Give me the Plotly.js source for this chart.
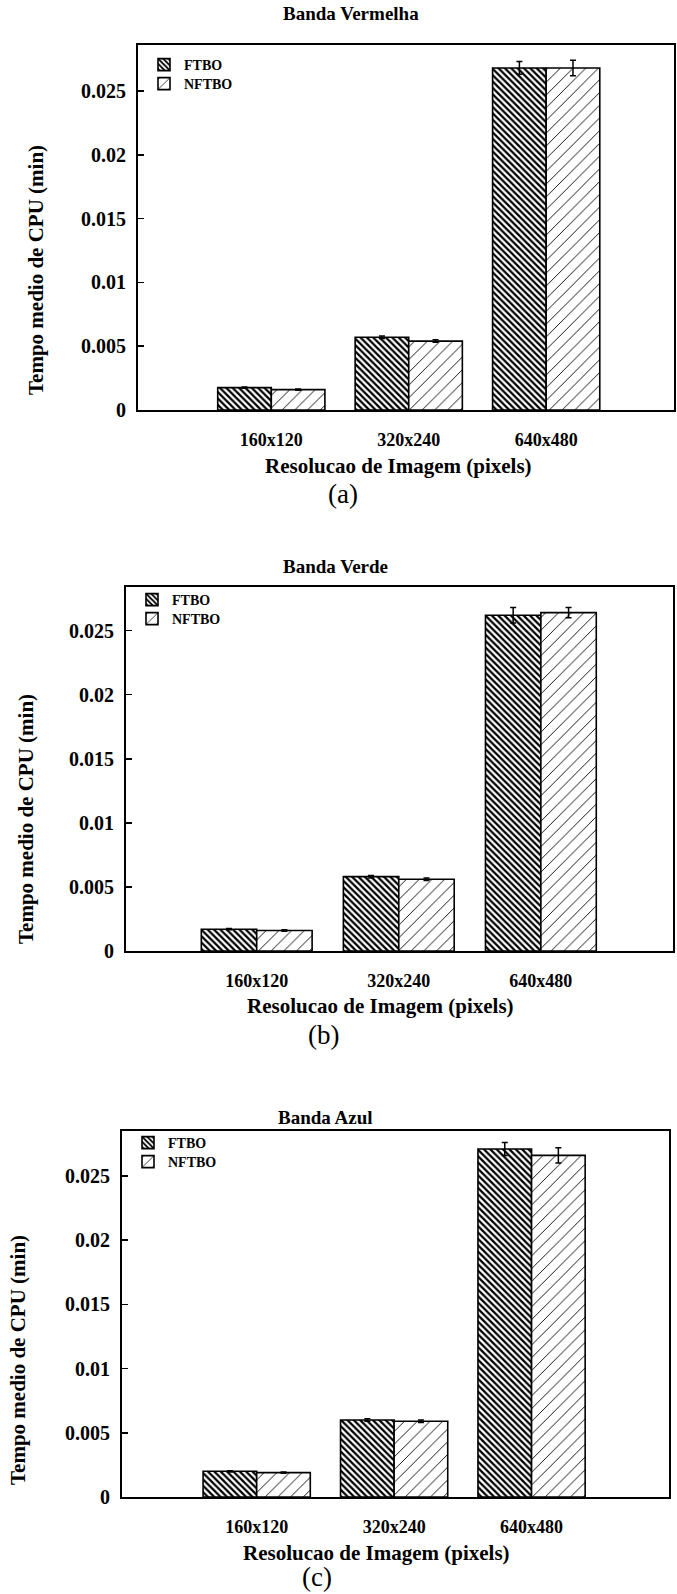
<!DOCTYPE html>
<html><head><meta charset="utf-8">
<script src="https://cdn.plot.ly/plotly-3.0.1.min.js"></script>
<style>html,body{margin:0;padding:0;background:#fff}</style>
</head><body><div id="chart" style="width:677px;height:1594px"></div>
<script>
// ---- data ----
const categories = ['160x120', '320x240', '640x480'];
const seriesNames = ['FTBO', 'NFTBO'];
const panelTitles = ['Banda Vermelha', 'Banda Verde', 'Banda Azul'];
const panelCaptions = ['(a)', '(b)', '(c)'];
const xAxisTitle = 'Resolucao de Imagem (pixels)';
const yAxisTitle = 'Tempo medio de CPU (min)';
const yTickVals = [0, 0.005, 0.01, 0.015, 0.02, 0.025];
const yTickText = ['0', '0.005', '0.01', '0.015', '0.02', '0.025'];

const ftboVermelha  = [0.00175, 0.0057, 0.0268];
const nftboVermelha = [0.0016, 0.0054, 0.0268];
const ftboVerde     = [0.0017, 0.0058, 0.0262];
const nftboVerde    = [0.0016, 0.0056, 0.0264];
const ftboAzul      = [0.0020, 0.0060, 0.0271];
const nftboAzul     = [0.0019, 0.0059, 0.0266];

const errFtboVermelha  = [0.00005, 0.0001, 0.0005];
const errNftboVermelha = [0.00005, 0.0001, 0.0006];
const errFtboVerde     = [0.00005, 0.0001, 0.0006];
const errNftboVerde    = [0.00005, 0.0001, 0.0004];
const errFtboAzul      = [0.00005, 0.0001, 0.0005];
const errNftboAzul     = [0.00005, 0.0001, 0.0006];

// ---- layout helpers ----
const W = 677, H = 1594;
const px = v => v / W;
const py = v => 1 - v / H;
const FONT = 'Liberation Serif, Times New Roman, serif';

const panels = [
  {ftbo: ftboVermelha, nftbo: nftboVermelha, eF: errFtboVermelha, eN: errNftboVermelha,
   box: [138, 674, 45, 410], xr: [-0.97, 2.93], yr: [0, 0.0286], leg: [65, 84],
   title: [351, 13], cap: [343, 494], xt: [398, 466], yt: [36, 270]},
  {ftbo: ftboVerde, nftbo: nftboVerde, eF: errFtboVerde, eN: errNftboVerde,
   box: [126, 673, 587, 951], xr: [-0.92, 2.93], yr: [0, 0.0284], leg: [600, 619],
   title: [335, 566], cap: [323, 1035], xt: [381, 1006], yt: [26, 819]},
  {ftbo: ftboAzul, nftbo: nftboAzul, eF: errFtboAzul, eN: errNftboAzul,
   box: [122, 669, 1131, 1497], xr: [-0.98, 3.0], yr: [0, 0.0285], leg: [1143, 1162],
   title: [325, 1117], cap: [317, 1577], xt: [376, 1553], yt: [18, 1360]}
];

const traces = [];
const layout = {
  width: W, height: H,
  margin: {l: 0, r: 0, t: 0, b: 0},
  paper_bgcolor: '#fff', plot_bgcolor: '#fff',
  barmode: 'group', bargap: 0.22, bargroupgap: 0,
  font: {family: FONT, color: '#000'},
  showlegend: true,
  annotations: []
};

const legendKey = k => (k === 1 ? 'legend' : 'legend' + k);

panels.forEach((p, i) => {
  const n = i === 0 ? '' : String(i + 1);
  const xa = 'x' + n, ya = 'y' + n;
  const [x0, x1, y0, y1] = p.box;
  const lf = legendKey(2 * i + 1), ln = legendKey(2 * i + 2);

  traces.push({
    type: 'bar', name: seriesNames[0], x: categories, y: p.ftbo,
    xaxis: xa, yaxis: ya, legend: lf,
    marker: {color: '#fff', line: {color: '#000', width: 1.6},
             pattern: {shape: '\\', fgcolor: '#000', bgcolor: '#fff', size: 4.5, solidity: 0.5}},
    error_y: {type: 'data', array: p.eF, visible: true, color: '#000', thickness: 1.5, width: 3}
  });
  traces.push({
    type: 'bar', name: seriesNames[1], x: categories, y: p.nftbo,
    xaxis: xa, yaxis: ya, legend: ln,
    marker: {color: '#fff', line: {color: '#000', width: 1.6},
             pattern: {shape: '/', fgcolor: '#000', bgcolor: '#fff', size: 9, solidity: 0.1}},
    error_y: {type: 'data', array: p.eN, visible: true, color: '#000', thickness: 1.5, width: 3}
  });

  layout['xaxis' + n] = {
    domain: [px(x0), px(x1)], anchor: ya, type: 'category',
    range: p.xr, showline: true, mirror: true, linecolor: '#000', linewidth: 2,
    ticks: '', showgrid: false, zeroline: false, fixedrange: true,
    tickfont: {family: FONT, size: 18, color: '#000', weight: 'bold'},
    ticklabelstandoff: 12
  };
  layout['yaxis' + n] = {
    domain: [py(y1), py(y0)], anchor: xa,
    range: p.yr, showline: true, mirror: true, linecolor: '#000', linewidth: 2,
    ticks: 'inside', ticklen: 6, tickwidth: 1.5, tickcolor: '#000',
    tickvals: yTickVals, ticktext: yTickText,
    showgrid: false, zeroline: false, fixedrange: true,
    tickfont: {family: FONT, size: 20, color: '#000', weight: 'bold'},
    ticklabelstandoff: 6
  };
  [lf, ln].forEach((key, j) => {
    layout[key] = {
      x: px(x0 + 6), y: py(p.leg[j]), xanchor: 'left', yanchor: 'middle',
      bgcolor: 'rgba(0,0,0,0)', borderwidth: 0,
      font: {family: FONT, size: 14, color: '#000', weight: 'bold'},
      itemwidth: 30, tracegroupgap: 0
    };
  });

  layout.annotations.push(
    {text: panelTitles[i], xref: 'paper', yref: 'paper', x: px(p.title[0]), y: py(p.title[1]),
     xanchor: 'center', yanchor: 'middle', showarrow: false,
     font: {family: FONT, size: 19, color: '#000', weight: 'bold'}},
    {text: xAxisTitle, xref: 'paper', yref: 'paper', x: px(p.xt[0]), y: py(p.xt[1]),
     xanchor: 'center', yanchor: 'middle', showarrow: false,
     font: {family: FONT, size: 21, color: '#000', weight: 'bold'}},
    {text: yAxisTitle, xref: 'paper', yref: 'paper', x: px(p.yt[0]), y: py(p.yt[1]),
     xanchor: 'center', yanchor: 'middle', showarrow: false, textangle: -90,
     font: {family: FONT, size: 21, color: '#000', weight: 'bold'}},
    {text: panelCaptions[i], xref: 'paper', yref: 'paper', x: px(p.cap[0]), y: py(p.cap[1]),
     xanchor: 'center', yanchor: 'middle', showarrow: false,
     font: {family: FONT, size: 27, color: '#000'}}
  );
});

Plotly.newPlot('chart', traces, layout, {staticPlot: true, displayModeBar: false});
</script>
</body></html>
